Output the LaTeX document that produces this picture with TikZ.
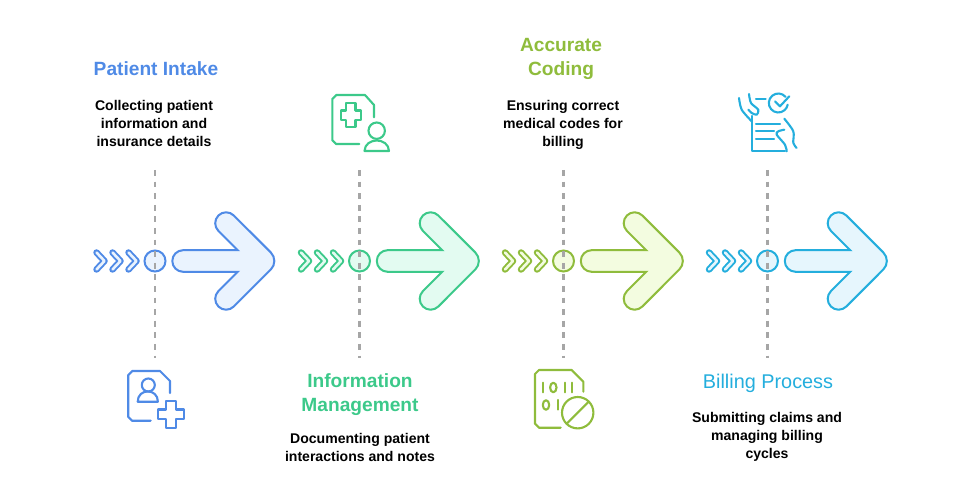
\documentclass[tikz,border=0pt]{standalone}
\usepackage{fontspec}
\setmainfont{Liberation Sans}

\begin{document}
\begin{tikzpicture}[x=0.02cm, y=0.02cm,
    iconline/.style={line width=1.2pt, line cap=round, line join=round},
    heading/.style={font=\fontsize{10.9}{13.6}\selectfont\bfseries, align=center, inner sep=0pt},
    blurb/.style={font=\fontsize{8}{10.2}\selectfont\bfseries, align=center, inner sep=0pt}]
    % Define custom colors
    \definecolor{bluestep}{HTML}{4F8AE6}
    \definecolor{bluefill}{HTML}{EAF3FE}
    \definecolor{greenstep}{HTML}{3CC98A}
    \definecolor{greenfill}{HTML}{E3FBF1}
    \definecolor{limestep}{HTML}{8FBC3C}
    \definecolor{limefill}{HTML}{F3FCE0}
    \definecolor{cyanstep}{HTML}{24AEDD}
    \definecolor{cyanfill}{HTML}{E6F6FD}
    \definecolor{dashgray}{HTML}{A6A6A6}

    \useasboundingbox (0,0) rectangle (980,-482);

    % Chevrons, big arrow, dot and dashed line of each step
    \foreach \cx/\stepcol/\fillcol/\tag in {155/bluestep/bluefill/a, 359.5/greenstep/greenfill/b,
        563.5/limestep/limefill/c, 767.5/cyanstep/cyanfill/d} {
        \begin{scope}[shift={(\cx,-261)}]
            \foreach \k in {0,1,2} {
                \draw[draw=\stepcol, double=\fillcol, double distance=1.5pt, line width=1.1pt,
                      line cap=round, line join=round]
                    (-58.5+\k*16, 8.5) -- (-50.5+\k*16, 0) -- (-58.5+\k*16, -8.5);
            }
            \draw[draw=\stepcol, fill=\fillcol, line width=1.15pt]
                (28.1,10.8) -- (82.7,10.8) -- (63.39,30.09)
                arc[start angle=225, end angle=45, radius=10.9] -- (115.83,8.49)
                arc[start angle=45, end angle=-45, radius=12] -- (78.81,-45.51)
                arc[start angle=-45, end angle=-225, radius=10.9] -- (82.7,-10.8)
                -- (28.1,-10.8) arc[start angle=270, end angle=90, radius=10.8] -- cycle;
            \node[circle, draw=\stepcol, fill=\fillcol, line width=1.15pt,
                  minimum size=0.42cm, inner sep=0pt] (dot\tag) at (0,0) {};
            \coordinate (top\tag) at (0,91);
            \coordinate (bot\tag) at (0,-97);
            \draw[dashgray, line width=1.2pt, dash pattern=on 3.3pt off 3.3pt] (top\tag) -- (bot\tag);
        \end{scope}
    }

    % Headings
    \node[heading, text=bluestep] (introhead) at (156,-69) {Patient Intake};
    \node[heading, text=greenstep] (infohead) at (360,-395) {Information\\Management};
    \node[heading, text=limestep] (codehead) at (561,-59) {Accurate\\Coding};
    \node[heading, text=cyanstep, font=\fontsize{11.3}{13.6}\selectfont] (billhead) at (768,-383) {Billing Process};

    % Descriptions
    \node[blurb] (introtext) at (154,-123.5) {Collecting patient\\information and\\insurance details};
    \node[blurb] (infotext) at (360,-447.5) {Documenting patient\\interactions and notes};
    \node[blurb] (codetext) at (563,-125) {Ensuring correct\\medical codes for\\billing};
    \node[blurb] (billtext) at (767,-437) {Submitting claims and\\managing billing\\cycles};

    % Patient icon with plus
    \draw[bluestep, iconline] (150.7,-420.7) -- (132,-420.7) -- (128.3,-417) -- (128.3,-375) -- (132.3,-371)
        -- (160,-371) -- (170,-381) -- (170,-393);
    \draw[bluestep, iconline] (148.3,-385) circle (6.5);
    \draw[bluestep, iconline] (137.7,-401.7) .. controls (137.7,-388) and (157.9,-388) .. (157.9,-401.7) -- cycle;
    \draw[bluestep, iconline] (166,-400.7) -- (175.7,-400.7) -- (175.7,-409.5) -- (184.3,-409.5) -- (184.3,-419)
        -- (175.7,-419) -- (175.7,-427.7) -- (166,-427.7) -- (166,-419) -- (157.7,-419) -- (157.7,-409.5)
        -- (166,-409.5) -- cycle;

    % Chart icon with plus and person
    \draw[greenstep, iconline] (359.3,-144) -- (336,-144) -- (332.3,-140.3) -- (332.3,-99) -- (336.3,-95)
        -- (365,-95) -- (374,-105) -- (374,-117.3);
    \draw[greenstep, iconline] (346,-103.3) -- (355.5,-103.3) -- (355.5,-110.5) -- (361,-110.5) -- (361,-120)
        -- (355.5,-120) -- (355.5,-126.7) -- (346,-126.7) -- (346,-120) -- (340.7,-120) -- (340.7,-110.5)
        -- (346,-110.5) -- cycle;
    \draw[greenstep, iconline] (376.7,-130.7) circle (8.2);
    \draw[greenstep, iconline] (364.5,-151) .. controls (365,-137) and (388.5,-137) .. (389,-151) -- cycle;

    % Binary code icon with forbidden sign
    \draw[limestep, iconline] (560.7,-427.7) -- (539,-427.7) -- (535,-423.7) -- (535,-374) -- (539,-370)
        -- (571.7,-370) -- (583.3,-381.7) -- (583.3,-391.7);
    \foreach \bx/\by in {543.3/-382.7, 565/-382.7, 571.7/-382.7, 557.7/-400} {
        \draw[limestep, iconline] (\bx,\by) -- (\bx,\by-9.6);
    }
    \draw[limestep, iconline] (553.3,-387.5) ellipse (3.2 and 4.8);
    \draw[limestep, iconline] (546,-405) ellipse (3.2 and 4.8);
    \draw[limestep, iconline] (577.7,-412.7) circle (15.7);
    \draw[limestep, iconline] (566.6,-423.8) -- (588.8,-401.6);

    % Billing form icon with hands and check
    \draw[cyanstep, iconline] (751.7,-116) -- (751.7,-151.3) -- (785,-151.3);
    \draw[cyanstep, iconline] (756,-98.7) -- (765.7,-98.7);
    \draw[cyanstep, iconline] (756,-123.7) -- (780,-123.7);
    \draw[cyanstep, iconline] (756,-131.3) -- (774,-131.3);
    \draw[cyanstep, iconline] (756,-138.7) -- (774,-138.7);
    \draw[cyanstep, iconline] (785.6,-96.9) arc[start angle=40, end angle=350, radius=9.5];
    \draw[cyanstep, iconline] (775,-101.3) -- (780,-106.3) -- (789.3,-96.3);
    \draw[cyanstep, iconline] plot[smooth, tension=0.5] coordinates {(739,-98) (741.7,-109.7) (751.7,-121.3)};
    \draw[cyanstep, iconline] plot[smooth, tension=0.5] coordinates {(749,-94) (751,-103) (758.3,-109.7)
        (756.7,-114.7) (751.7,-113) (748.3,-109.7)};
    \draw[cyanstep, iconline] plot[smooth, tension=0.5] coordinates {(784.3,-118.7) (793.3,-131.3)
        (793.3,-143) (796.7,-148)};
    \draw[cyanstep, iconline] plot[smooth, tension=0.5] coordinates {(784.3,-129.7) (778.3,-131.3)
        (776.7,-134.7) (785,-144.7) (786.7,-151.3)};
\end{tikzpicture}
\end{document}
